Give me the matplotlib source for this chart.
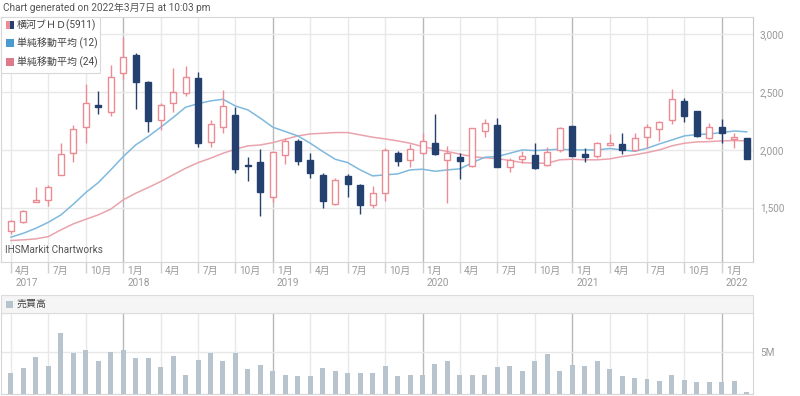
import numpy as np
import matplotlib.pyplot as plt
from matplotlib.patches import Rectangle

plt.rcParams['font.family'] = ['Roboto', 'Noto Sans CJK JP', 'DejaVu Sans']

# monthly candles, April 2017 .. March 2022
opens = [1299, 1377, 1553, 1568, 1784, 1977, 2199, 2389, 2326, 2663,
         2822, 2591, 2259, 2404, 2490, 2620, 2066, 2199, 2306, 1870,
         1893, 1596, 1957, 2081, 1916, 1784, 1533, 1772, 1700, 1519,
         1625, 1971, 1911, 1971, 2058, 1916, 1939, 1862, 2164, 2213,
         1853, 1919, 1960, 1867, 2000, 2205, 1962, 1951, 2046, 2052,
         2000, 2115, 2179, 2259, 2424, 2334, 2101, 2202, 2092, 2101]
highs = [1395, 1478, 1677, 1692, 2058, 2216, 2568, 2510, 2735, 2974,
         2836, 2595, 2404, 2712, 2729, 2678, 2259, 2519, 2369, 1942,
         2006, 1985, 2101, 2095, 1971, 1804, 1755, 1790, 1702, 1686,
         2014, 1994, 2049, 2150, 2308, 2037, 1977, 2190, 2265, 2280,
         1931, 1991, 2063, 2029, 2202, 2208, 2014, 2072, 2138, 2150,
         2144, 2222, 2251, 2525, 2453, 2336, 2231, 2268, 2150, 2103]
lows = [1270, 1370, 1545, 1516, 1781, 1899, 2063, 2311, 2297, 2611,
        2355, 2153, 2173, 2332, 2470, 2029, 2023, 2144, 1798, 1732,
        1429, 1553, 1879, 1867, 1761, 1495, 1524, 1596, 1444, 1493,
        1559, 1862, 1856, 1965, 1957, 1544, 1752, 1853, 2115, 1850,
        1813, 1890, 1836, 1862, 1986, 1945, 1899, 1928, 2040, 1962,
        1994, 2014, 2081, 2225, 2242, 2115, 2095, 2058, 2014, 1919]
closes = [1386, 1467, 1565, 1683, 1963, 2185, 2409, 2375, 2634, 2807,
          2591, 2254, 2389, 2505, 2629, 2063, 2225, 2383, 1839, 1863,
          1637, 1980, 2078, 1905, 1798, 1559, 1738, 1709, 1524, 1625,
          2000, 1908, 2006, 2081, 1965, 1971, 1902, 2187, 2231, 1853,
          1914, 1948, 1847, 1986, 2187, 1951, 1937, 2058, 2063, 2003,
          2107, 2196, 2239, 2438, 2297, 2121, 2196, 2144, 2110, 1922]

sma12 = [1245, 1279, 1322, 1374, 1437, 1530, 1631, 1717, 1827, 1942,
         2043, 2115, 2196, 2280, 2369, 2400, 2424, 2438, 2380, 2346,
         2274, 2196, 2159, 2121, 2058, 1986, 1919, 1890, 1827, 1775,
         1784, 1792, 1827, 1833, 1815, 1827, 1836, 1890, 1937, 1942,
         1971, 2000, 1994, 2000, 2006, 2000, 2000, 2000, 2012, 2000,
         1988, 2014, 2052, 2086, 2121, 2133, 2138, 2150, 2164, 2156]
sma24 = [1216, 1222, 1230, 1250, 1308, 1360, 1400, 1438, 1487, 1568,
         1625, 1674, 1726, 1784, 1841, 1890, 1928, 1971, 2006, 2035,
         2043, 2063, 2092, 2121, 2138, 2144, 2150, 2150, 2130, 2110,
         2095, 2078, 2058, 2029, 2006, 1986, 1963, 1942, 1931, 1925,
         1908, 1890, 1885, 1885, 1914, 1919, 1914, 1914, 1922, 1942,
         1957, 1977, 2000, 2035, 2058, 2069, 2072, 2078, 2081, 2078]

# volume in millions
volume = [2.54, 3.10, 4.44, 3.29, 7.30, 4.84, 5.24, 3.97, 5.04, 5.24,
          4.25, 4.25, 3.17, 4.52, 2.30, 4.05, 4.84, 3.89, 4.84, 2.98,
          3.45, 2.74, 2.30, 2.14, 2.14, 3.10, 2.74, 2.54, 2.54, 2.54,
          3.29, 2.14, 2.22, 2.30, 3.57, 3.89, 2.30, 2.30, 2.22, 3.17,
          3.37, 2.74, 3.97, 4.76, 2.74, 3.45, 3.37, 3.89, 2.98, 2.10,
          1.90, 1.75, 1.55, 2.30, 1.67, 1.43, 1.43, 1.43, 1.55, 0.24]

price_ticks = [1500, 2000, 2500, 3000]
start_year, start_month = 2017, 4

UP = '#ec8b93'
DOWN = '#24406e'
BLUE = '#7fb9dd'
PINK = '#eaa3ad'
VOLC = '#b7c4cd'
GRID = '#e8e8e8'
JAN = '#b8b8b8'
TXT = '#999999'
FS = 7.2

W, H = 800, 396


def fx(x):
    return x / W


def fy(y):
    return 1 - y / H


fig = plt.figure(figsize=(8, 3.96), dpi=100)

n = len(closes)
idx = np.arange(n)
tick_idx = [i for i in idx if (start_month - 1 + i) % 3 == 0]

ax = fig.add_axes([fx(1), fy(262), fx(752), 245 / H])
ax.set_xlim(-0.8, 59.5)
ax.set_ylim(1030, 3150)

for i in tick_idx:
    month = (start_month - 1 + i) % 12 + 1
    ax.axvline(i, color=JAN if month == 1 else GRID, lw=1, zorder=0)
for p in price_ticks:
    ax.axhline(p, color=GRID, lw=1, zorder=0)

ax.plot(idx, sma24, color=PINK, lw=1.1, zorder=2)
ax.plot(idx, sma12, color=BLUE, lw=1.1, zorder=2)

bw = 0.48
for i in idx:
    o, h, l, c = opens[i], highs[i], lows[i], closes[i]
    col = UP if c >= o else DOWN
    ax.vlines(i, l, h, color=col, lw=1, zorder=3)
    face = 'white' if c >= o else DOWN
    ax.add_patch(Rectangle((i - bw / 2, min(o, c)), bw, max(abs(c - o), 4),
                           facecolor=face, edgecolor=col, lw=1, zorder=4))

ax.yaxis.tick_right()
ax.set_yticks(price_ticks)
ax.set_yticklabels([f'{p:,}' for p in price_ticks])
ax.tick_params(axis='y', length=0, pad=5, labelsize=FS, labelcolor=TXT)
ax.set_xticks(tick_idx)
ax.set_xticklabels([])
ax.tick_params(axis='x', length=8, color='#d0d0d0', width=1)
for s in ax.spines.values():
    s.set_color('#d6d6d6')
    s.set_linewidth(0.8)
ax.spines['right'].set_color('#c8c8c8')

# month / year labels
for i in tick_idx:
    month = (start_month - 1 + i) % 12 + 1
    year = start_year + (start_month - 1 + i) // 12
    lab = f'{month}月'
    if month == 1 or i == 0:
        lab += f'\n{year}'
    ax.annotate(lab, xy=(i, 0), xycoords=('data', 'axes fraction'),
                xytext=(3, -3), textcoords='offset points',
                ha='left', va='top', fontsize=FS, color=TXT, linespacing=1.2)

ax.text(0.005, 0.03, 'IHSMarkit Chartworks', transform=ax.transAxes,
        fontsize=FS, color='#555555', va='bottom', ha='left', zorder=6)

fig.text(fx(3), fy(8), 'Chart generated on 2022年3月7日 at 10:03 pm',
         fontsize=FS, color='#555555', va='center', ha='left')

# legend box
fig.patches.append(Rectangle((fx(1), fy(73)), fx(99), 56 / H, transform=fig.transFigure,
                             facecolor='white', edgecolor='#d8d8d8', lw=0.8, zorder=5))
entries = ['横河ブＨＤ(5911)', '単純移動平均 (12)', '単純移動平均 (24)']
ys = [25, 43, 62]
for k, (lab, yy) in enumerate(zip(entries, ys)):
    if k == 0:
        fig.patches.append(Rectangle((fx(6), fy(yy + 4)), fx(3.5), 8 / H, transform=fig.transFigure,
                                     facecolor=UP, edgecolor='none', zorder=6))
        fig.patches.append(Rectangle((fx(9.5), fy(yy + 4)), fx(4), 8 / H, transform=fig.transFigure,
                                     facecolor=DOWN, edgecolor='none', zorder=6))
    else:
        fig.patches.append(Rectangle((fx(6), fy(yy + 4)), fx(7.5), 8 / H, transform=fig.transFigure,
                                     facecolor='#4a9bd1' if k == 1 else '#df7a8c',
                                     edgecolor='none', zorder=6))
    fig.text(fx(17), fy(yy), lab, fontsize=FS, color='#444444', va='center', ha='left', zorder=7)

# volume panel
fig.patches.append(Rectangle((fx(1), fy(313)), fx(752), 18 / H, transform=fig.transFigure,
                             facecolor='#f5f5f5', edgecolor='#dcdcdc', lw=0.8, zorder=1))
fig.patches.append(Rectangle((fx(6), fy(308)), fx(7), 7 / H, transform=fig.transFigure,
                             facecolor=VOLC, edgecolor='none', zorder=2))
fig.text(fx(17), fy(304), '売買高', fontsize=FS, color='#444444', va='center', ha='left')

vax = fig.add_axes([fx(1), fy(394), fx(752), 81 / H])
vax.set_xlim(-0.8, 59.5)
vax.set_ylim(0, 9.64)
for i in tick_idx:
    month = (start_month - 1 + i) % 12 + 1
    vax.axvline(i, color=JAN if month == 1 else GRID, lw=1, zorder=0)
vax.axhline(5, color=GRID, lw=1, zorder=0)
vax.bar(idx, volume, width=0.4, color=VOLC, zorder=2)
vax.yaxis.tick_right()
vax.set_yticks([5])
vax.set_yticklabels(['5M'])
vax.tick_params(axis='y', length=0, pad=5, labelsize=FS, labelcolor=TXT)
vax.set_xticks([])
for s in vax.spines.values():
    s.set_color('#d6d6d6')
    s.set_linewidth(0.8)

fig.savefig('out.png', dpi=100)
